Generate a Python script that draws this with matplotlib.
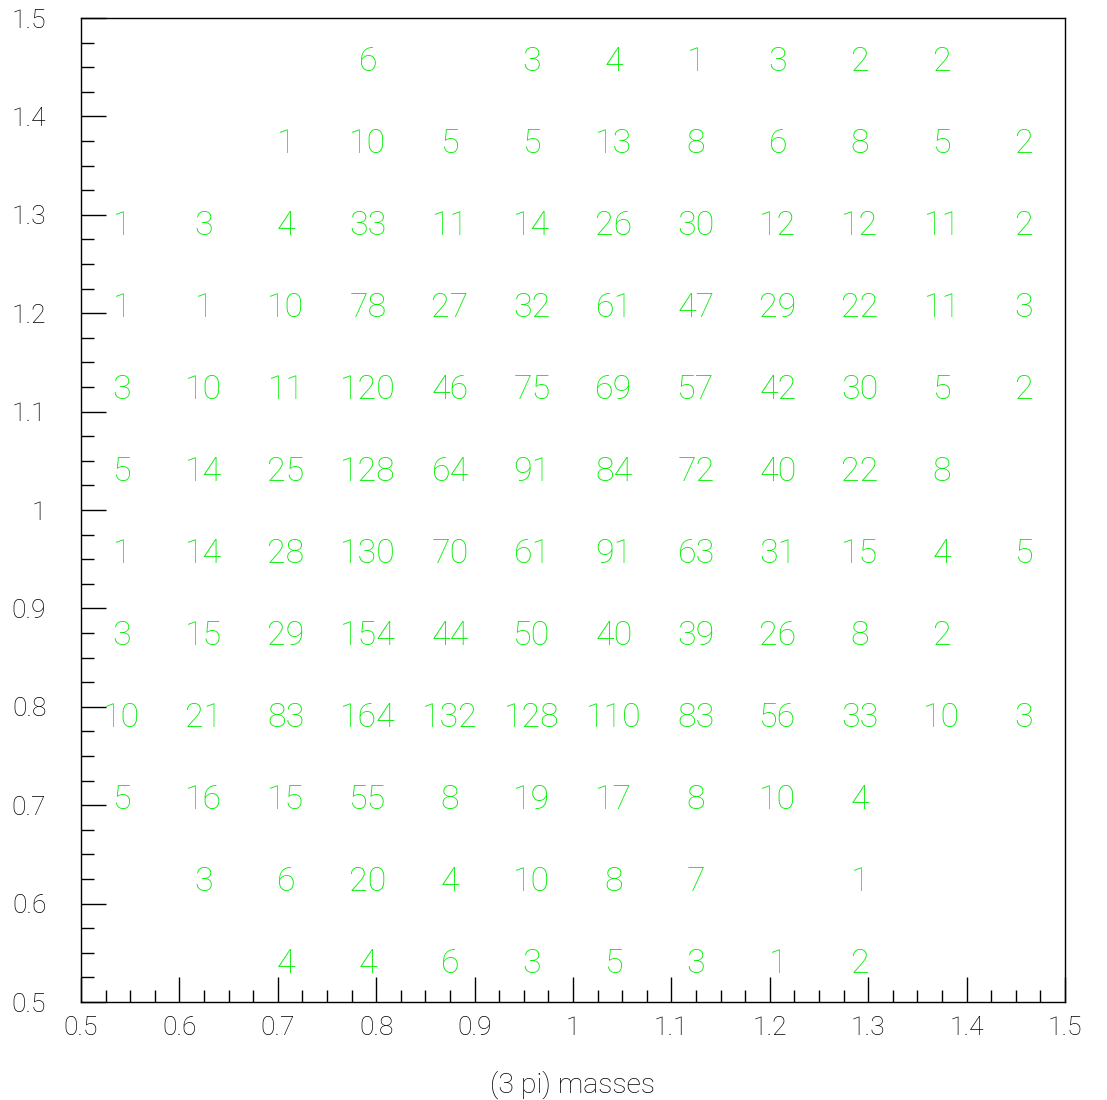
import numpy as np
import matplotlib.pyplot as plt
from matplotlib.ticker import MultipleLocator

# bin edges for the (3 pi) mass pairs, 12 x 12 bins
x_edges = np.linspace(0.5, 1.5, 13)
y_edges = np.linspace(0.5, 1.5, 13)

# entries per bin, rows listed from the lowest y bin upwards
counts = [
    [0, 0, 4, 4, 6, 3, 5, 3, 1, 2, 0, 0],
    [0, 3, 6, 20, 4, 10, 8, 7, 0, 1, 0, 0],
    [5, 16, 15, 55, 8, 19, 17, 8, 10, 4, 0, 0],
    [10, 21, 83, 164, 132, 128, 110, 83, 56, 33, 10, 3],
    [3, 15, 29, 154, 44, 50, 40, 39, 26, 8, 2, 0],
    [1, 14, 28, 130, 70, 61, 91, 63, 31, 15, 4, 5],
    [5, 14, 25, 128, 64, 91, 84, 72, 40, 22, 8, 0],
    [3, 10, 11, 120, 46, 75, 69, 57, 42, 30, 5, 2],
    [1, 1, 10, 78, 27, 32, 61, 47, 29, 22, 11, 3],
    [1, 3, 4, 33, 11, 14, 26, 30, 12, 12, 11, 2],
    [0, 0, 1, 10, 5, 5, 13, 8, 6, 8, 5, 2],
    [0, 0, 0, 6, 0, 3, 4, 1, 3, 2, 2, 0],
]
x_label = "(3 pi) masses"

plt.rcParams['font.family'] = ['Roboto', 'DejaVu Sans']
plt.rcParams['font.weight'] = 'light'

fig = plt.figure(figsize=(11.07, 11.0), dpi=100)
ax = fig.add_axes([81 / 1107, 1 - 1002 / 1100, 984 / 1107, 984 / 1100])

xc = 0.5 * (x_edges[:-1] + x_edges[1:])
yc = 0.5 * (y_edges[:-1] + y_edges[1:])
for j, row in enumerate(counts):
    for i, n in enumerate(row):
        if n > 0:
            # baseline put half a digit height under the bin centre
            ax.annotate(str(n), (xc[i], yc[j]), xytext=(0, -8.3),
                        textcoords='offset points', color='#00ee00',
                        fontsize=24.5, fontweight='light',
                        ha='center', va='baseline')

ax.set_xlim(x_edges[0], x_edges[-1])
ax.set_ylim(y_edges[0], y_edges[-1])

for sp in ax.spines.values():
    sp.set_linewidth(1.0)
    sp.set_color('black')

ax.xaxis.set_major_locator(MultipleLocator(0.1))
ax.xaxis.set_minor_locator(MultipleLocator(0.025))
ax.yaxis.set_major_locator(MultipleLocator(0.1))
ax.yaxis.set_minor_locator(MultipleLocator(0.025))
ax.tick_params(which='major', direction='in', length=18, width=1.0,
               labelsize=19, pad=10, colors='black')
ax.tick_params(which='minor', direction='in', length=9, width=1.0)
ax.tick_params(axis='y', which='major', pad=25)

fmt = lambda v, p: ('%g' % round(v, 3))
ax.xaxis.set_major_formatter(fmt)
ax.yaxis.set_major_formatter(fmt)

fig.text(573 / 1107, 1 - 1085 / 1100, x_label, fontsize=20.5,
         ha='center', va='center')

fig.savefig('out.png', dpi=100)
